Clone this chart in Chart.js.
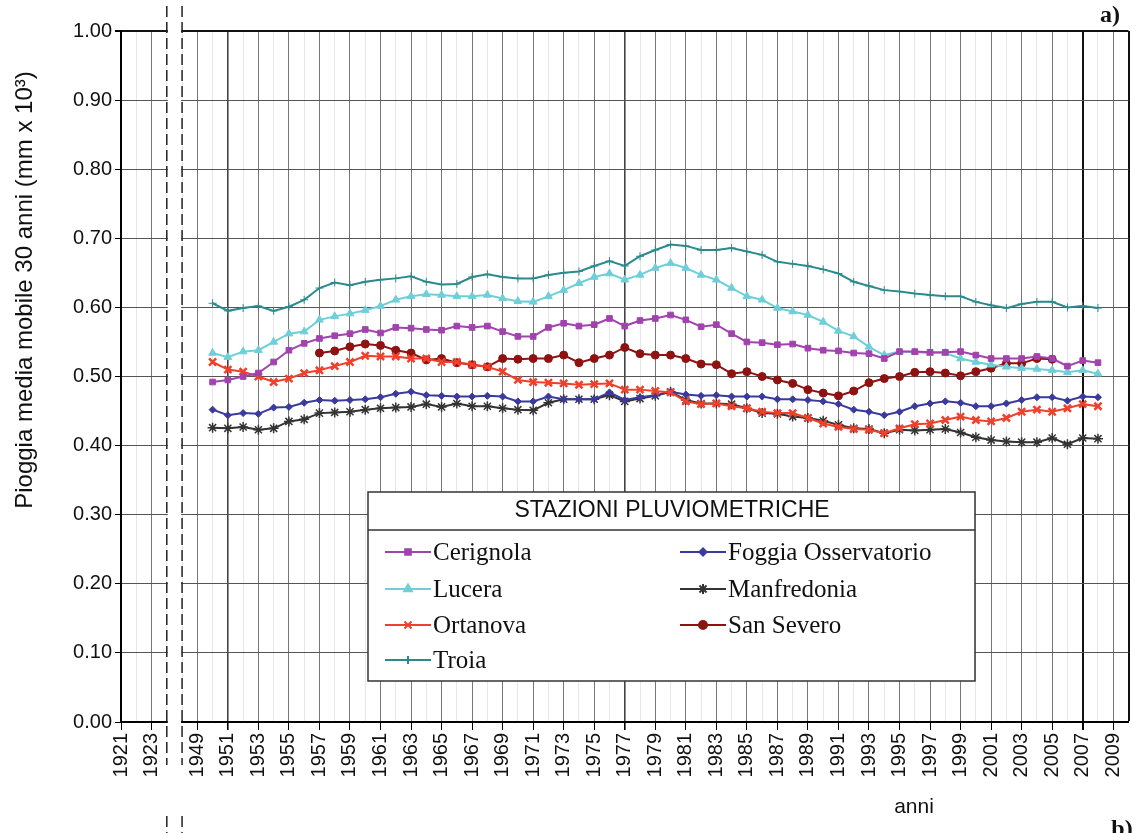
<!DOCTYPE html>
<html>
<head>
<meta charset="utf-8">
<script src="https://cdn.jsdelivr.net/npm/chart.js@4.4.0/dist/chart.umd.min.js"></script>
<style>
  html, body { margin: 0; padding: 0; background: #fff; }
  #wrap { width: 1136px; height: 833px; }
</style>
</head>
<body>
<div id="wrap"><canvas id="chart" width="1136" height="833"></canvas></div>
<script>
// Categories: 1921-1923, two slots for the axis break, then 1949-2010
const labels = [];
for (let y = 1921; y <= 1923; y++) labels.push(String(y));
labels.push('', '');
for (let y = 1949; y <= 2010; y++) labels.push(String(y));

// Tick labels shown on the x axis
const tickLabels = ['1921', '1923'];
for (let y = 1949; y <= 2009; y += 2) tickLabels.push(String(y));

const yTicks = [0, 0.1, 0.2, 0.3, 0.4, 0.5, 0.6, 0.7, 0.8, 0.9, 1.0];

// Series values (30-year moving average), first year 1950 unless noted
const cerignola = [0.492, 0.495, 0.500, 0.505, 0.521, 0.538, 0.548, 0.555, 0.559, 0.562,
  0.568, 0.563, 0.571, 0.570, 0.568, 0.567, 0.573, 0.571, 0.573, 0.565,
  0.558, 0.558, 0.571, 0.577, 0.573, 0.575, 0.584, 0.573, 0.581, 0.584,
  0.589, 0.582, 0.572, 0.575, 0.562, 0.550, 0.549, 0.546, 0.547, 0.541,
  0.538, 0.537, 0.534, 0.533, 0.526, 0.536, 0.536, 0.535, 0.535, 0.536,
  0.531, 0.526, 0.526, 0.526, 0.529, 0.526, 0.515, 0.523, 0.520];
const lucera = [0.534, 0.528, 0.536, 0.538, 0.550, 0.562, 0.565, 0.582, 0.587, 0.591,
  0.596, 0.602, 0.611, 0.616, 0.619, 0.618, 0.616, 0.616, 0.618, 0.613,
  0.609, 0.608, 0.616, 0.625, 0.635, 0.644, 0.649, 0.640, 0.647, 0.657,
  0.664, 0.657, 0.647, 0.640, 0.628, 0.616, 0.611, 0.599, 0.594, 0.589,
  0.579, 0.566, 0.558, 0.543, 0.531, 0.536, 0.535, 0.534, 0.534, 0.526,
  0.521, 0.517, 0.514, 0.512, 0.511, 0.509, 0.506, 0.509, 0.504];
const ortanova = [0.521, 0.510, 0.507, 0.500, 0.492, 0.497, 0.505, 0.509, 0.515, 0.521,
  0.530, 0.529, 0.529, 0.526, 0.526, 0.521, 0.521, 0.517, 0.514, 0.507,
  0.495, 0.492, 0.491, 0.490, 0.488, 0.489, 0.490, 0.481, 0.481, 0.479,
  0.477, 0.464, 0.460, 0.461, 0.457, 0.454, 0.449, 0.447, 0.447, 0.440,
  0.432, 0.427, 0.424, 0.423, 0.418, 0.425, 0.431, 0.432, 0.437, 0.442,
  0.437, 0.435, 0.440, 0.449, 0.452, 0.449, 0.454, 0.460, 0.457];
const troia = [0.606, 0.595, 0.599, 0.602, 0.595, 0.601, 0.611, 0.628, 0.636, 0.632,
  0.637, 0.640, 0.642, 0.645, 0.637, 0.633, 0.634, 0.644, 0.648, 0.644,
  0.642, 0.642, 0.647, 0.650, 0.652, 0.660, 0.667, 0.660, 0.674, 0.683,
  0.691, 0.689, 0.683, 0.683, 0.686, 0.681, 0.676, 0.666, 0.663, 0.660,
  0.655, 0.649, 0.637, 0.631, 0.625, 0.623, 0.620, 0.618, 0.616, 0.616,
  0.608, 0.603, 0.599, 0.605, 0.608, 0.608, 0.600, 0.602, 0.599];
const foggia = [0.452, 0.444, 0.447, 0.446, 0.455, 0.456, 0.462, 0.466, 0.465, 0.466,
  0.467, 0.470, 0.475, 0.478, 0.473, 0.472, 0.471, 0.471, 0.472, 0.471,
  0.464, 0.464, 0.471, 0.467, 0.467, 0.467, 0.477, 0.466, 0.470, 0.473,
  0.478, 0.474, 0.472, 0.473, 0.471, 0.471, 0.471, 0.467, 0.467, 0.466,
  0.464, 0.460, 0.452, 0.449, 0.444, 0.449, 0.457, 0.461, 0.464, 0.462,
  0.457, 0.457, 0.461, 0.466, 0.470, 0.470, 0.465, 0.471, 0.470];
const manfredonia = [0.426, 0.425, 0.427, 0.423, 0.425, 0.435, 0.438, 0.447, 0.448, 0.449,
  0.452, 0.454, 0.455, 0.456, 0.460, 0.456, 0.461, 0.457, 0.457, 0.454,
  0.452, 0.451, 0.462, 0.467, 0.467, 0.467, 0.473, 0.464, 0.468, 0.472,
  0.478, 0.466, 0.461, 0.461, 0.460, 0.454, 0.447, 0.446, 0.442, 0.440,
  0.436, 0.430, 0.425, 0.424, 0.418, 0.423, 0.422, 0.423, 0.424, 0.419,
  0.412, 0.408, 0.406, 0.405, 0.405, 0.411, 0.402, 0.411, 0.410];
// San Severo: 1957-2005
const sanSevero = [0.534, 0.537, 0.543, 0.547, 0.545, 0.538, 0.534, 0.524, 0.526, 0.520,
  0.517, 0.514, 0.526, 0.525, 0.526, 0.526, 0.531, 0.520, 0.526, 0.531,
  0.542, 0.533, 0.531, 0.531, 0.526, 0.518, 0.517, 0.504, 0.507, 0.500,
  0.495, 0.490, 0.481, 0.476, 0.472, 0.479, 0.491, 0.497, 0.500, 0.506,
  0.507, 0.505, 0.501, 0.507, 0.512, 0.519, 0.519, 0.526, 0.525];

// put a series on the category labels
function onLabels(startYear, values) {
    return labels.map(l => {
        if (l === '') return null;
        const i = Number(l) - startYear;
        return (i >= 0 && i < values.length) ? values[i] : null;
    });
}

function series(label, values, start, color, pointStyle, radius, pointWidth) {
    return {
        label: label,
        data: onLabels(start, values),
        borderColor: color,
        backgroundColor: color,
        borderWidth: 2,
        pointStyle: pointStyle,
        pointRadius: radius,
        pointBorderWidth: pointWidth,
        pointBorderColor: color,
        pointBackgroundColor: color,
        tension: 0,
        spanGaps: false
    };
}

const datasets = [
    series('Cerignola', cerignola, 1950, '#a143ad', 'rect', 4, 1),
    series('Lucera', lucera, 1950, '#6fcfd9', 'triangle', 4.5, 1),
    series('Ortanova', ortanova, 1950, '#f0402c', 'crossRot', 5, 2.5),
    series('Troia', troia, 1950, '#2c8a8c', 'cross', 4, 1),
    series('Foggia Osservatorio', foggia, 1950, '#3a3a9e', 'rectRot', 3.5, 1),
    series('Manfredonia', manfredonia, 1950, '#333333', 'star', 5, 1.5),
    series('San Severo', sanSevero, 1957, '#8e1212', 'circle', 4, 1)
];

const thickYears = ['1951', '1977'];

const decorPlugin = {
    id: 'decor',
    beforeDraw(chart) {
        const ctx = chart.ctx;
        ctx.save();
        ctx.fillStyle = '#fff';
        ctx.fillRect(0, 0, chart.width, chart.height);
        ctx.restore();
    },
    afterDraw(chart) {
        const ctx = chart.ctx;
        const x = chart.scales.x;
        const xa = x.getPixelForValue(3);
        const xb = x.getPixelForValue(4);

        ctx.save();
        // axis break
        ctx.fillStyle = '#fff';
        ctx.fillRect(xa + 1, 0, xb - xa - 2, 730);
        ctx.strokeStyle = '#222';
        ctx.lineWidth = 1.5;
        ctx.setLineDash([11, 5]);
        [xa, xb].forEach(px => {
            ctx.beginPath();
            ctx.moveTo(px, 6);
            ctx.lineTo(px, 765);
            ctx.stroke();
            ctx.beginPath();
            ctx.moveTo(px, 816);
            ctx.lineTo(px, 833);
            ctx.stroke();
        });
        ctx.setLineDash([]);

        // texts
        ctx.fillStyle = '#111';
        ctx.font = '24px "Liberation Sans", Arial, sans-serif';
        ctx.textAlign = 'center';
        ctx.textBaseline = 'middle';
        ctx.save();
        ctx.translate(25, 290);
        ctx.rotate(-Math.PI / 2);
        ctx.fillText('Pioggia media mobile 30 anni (mm x 10³)', 0, 0);
        ctx.restore();

        ctx.font = '21px "Liberation Sans", Arial, sans-serif';
        ctx.fillText('anni', 914, 807);

        ctx.font = 'bold 24px "Liberation Serif", "Times New Roman", serif';
        ctx.fillText('a)', 1110, 16);
        ctx.textBaseline = 'top';
        ctx.fillText('b)', 1122, 818);

        // legend
        const bx = 368, by = 492, bw = 607, bh = 189;
        ctx.fillStyle = '#fff';
        ctx.fillRect(bx, by, bw, bh);
        ctx.strokeStyle = '#333';
        ctx.lineWidth = 1.5;
        ctx.strokeRect(bx, by, bw, bh);
        ctx.beginPath();
        ctx.moveTo(bx, 530);
        ctx.lineTo(bx + bw, 530);
        ctx.stroke();

        ctx.fillStyle = '#111';
        ctx.textBaseline = 'middle';
        ctx.font = '23px "Liberation Sans", Arial, sans-serif';
        ctx.fillText('STAZIONI PLUVIOMETRICHE', 672, 511);

        const rows = [552, 589, 625, 660];
        const cols = [385, 680];
        ctx.font = '25px "Liberation Serif", "Times New Roman", serif';
        ctx.textAlign = 'left';
        chart.data.datasets.forEach((ds, i) => {
            const col = i < 4 ? 0 : 1;
            const row = i < 4 ? i : i - 4;
            const lx = cols[col], ly = rows[row];
            ctx.strokeStyle = ds.borderColor;
            ctx.lineWidth = 2;
            ctx.beginPath();
            ctx.moveTo(lx, ly);
            ctx.lineTo(lx + 46, ly);
            ctx.stroke();
            if (Chart.helpers && Chart.helpers.drawPoint) {
                ctx.fillStyle = ds.backgroundColor;
                Chart.helpers.drawPoint(ctx, {
                    pointStyle: ds.pointStyle,
                    radius: ds.pointRadius,
                    rotation: 0,
                    borderWidth: ds.pointBorderWidth
                }, lx + 23, ly);
            }
            ctx.fillStyle = '#111';
            ctx.fillText(ds.label, lx + 48, ly + 1);
        });
        ctx.restore();
    }
};

Chart.defaults.font.family = '"Liberation Sans", Arial, sans-serif';
Chart.defaults.color = '#111';

new Chart(document.getElementById('chart'), {
    type: 'line',
    data: { labels: labels, datasets: datasets },
    options: {
        responsive: false,
        animation: false,
        layout: { padding: { left: 0, top: 31, right: 6, bottom: 0 } },
        plugins: {
            legend: { display: false },
            tooltip: { enabled: false }
        },
        scales: {
            x: {
                type: 'category',
                offset: false,
                afterFit(scale) {
                    scale.height = 111;
                    scale.paddingLeft = 0;
                    scale.paddingRight = 0;
                },
                border: { display: true, color: '#000', width: 2 },
                grid: {
                    tickLength: 8,
                    color(c) {
                        const l = labels[c.index];
                        if (c.index === labels.length - 1) return '#111';
                        if (l === '2007') return '#111';
                        if (thickYears.includes(l)) return '#444';
                        if (tickLabels.includes(l)) return '#777';
                        return '#e6e6e6';
                    },
                    lineWidth(c) {
                        const l = labels[c.index];
                        if (c.index === labels.length - 1 || l === '2007') return 2;
                        if (thickYears.includes(l)) return 1.6;
                        return 1;
                    },
                    tickColor(c) {
                        return tickLabels.includes(labels[c.index]) ? '#000' : 'rgba(0,0,0,0)';
                    }
                },
                ticks: {
                    autoSkip: false,
                    maxRotation: 90,
                    minRotation: 90,
                    padding: 3,
                    font: { size: 20 },
                    callback(value) {
                        const l = labels[value];
                        return tickLabels.includes(l) ? l : '';
                    }
                }
            },
            y: {
                min: 0,
                max: 1,
                afterFit(scale) { scale.width = 121; },
                afterBuildTicks(scale) { scale.ticks = yTicks.map(v => ({ value: v })); },
                border: { display: true, color: '#000', width: 2 },
                grid: {
                    tickLength: 6,
                    tickColor: '#000',
                    color(c) { return c.tick && c.tick.value === 1 ? '#111' : '#555'; },
                    lineWidth(c) { return c.tick && c.tick.value === 1 ? 2 : 1; }
                },
                ticks: {
                    padding: 3,
                    font: { size: 20 },
                    callback(value) { return Number(value).toFixed(2); }
                }
            }
        }
    },
    plugins: [decorPlugin]
});
</script>
</body>
</html>
